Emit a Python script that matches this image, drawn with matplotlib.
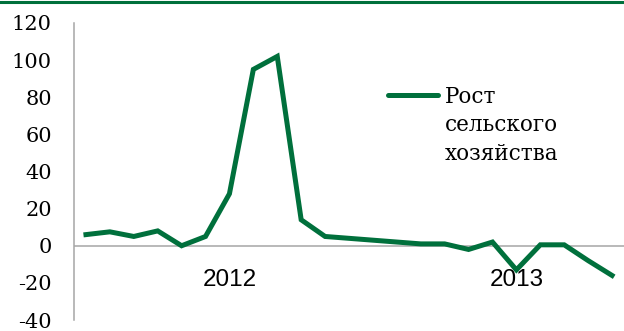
import matplotlib
matplotlib.use("Agg")
import matplotlib.pyplot as plt
from matplotlib.lines import Line2D

# monthly growth, index points along a category axis
growth = [6, 7.5, 5, 8, 0, 5, 28, 95, 102, 14, 5, 4, 3, 2, 1, 1, -2, 2, -13, 0.5, 0.5, -8, -16]
year_labels = ["2012", "2013"]
year_pos = [6, 18]
yticks = [-40, -20, 0, 20, 40, 60, 80, 100, 120]
series_name = "Рост\nсельского\nхозяйства"

GREEN = "#00703c"
GREY = "#a6a6a6"
W, H = 624, 331

fig = plt.figure(figsize=(W / 100, H / 100), dpi=100)
ax = fig.add_axes([74 / W, (H - 320) / H, (W - 74) / W, 297 / H])

x = list(range(len(growth)))
ax.plot(x, growth, color=GREEN, lw=3.6, solid_joinstyle="miter", clip_on=False)
ax.axhline(0, color=GREY, lw=1.1, zorder=0)

ax.set_xlim(-0.5, len(growth) - 0.5)
ax.set_ylim(-40, 120)
ax.set_yticks(yticks)
ax.set_yticklabels([str(v) for v in yticks], family="DejaVu Serif", fontsize=15)
ax.tick_params(axis="y", length=0, pad=16)
ax.set_xticks([])

for s in ["top", "right", "bottom"]:
    ax.spines[s].set_visible(False)
ax.spines["left"].set_color(GREY)
ax.spines["left"].set_linewidth(1.1)

for lab, p in zip(year_labels, year_pos):
    ax.text(p, -18.5, lab, ha="center", va="center", family="Liberation Sans",
            fontsize=17.5, color="#000000")

# legend: handle sits beside the first line of the label
fig.add_artist(Line2D([388 / W, 438 / W], [1 - 95 / H, 1 - 95 / H],
                      transform=fig.transFigure, color=GREEN, lw=3.6,
                      solid_capstyle="round"))
fig.text(445 / W, 1 - 86 / H, series_name, ha="left", va="top",
         family="DejaVu Serif", fontsize=15.5, linespacing=1.38)

# thin green rule along the top edge
fig.add_artist(Line2D([0, 1], [1 - 1.5 / H, 1 - 1.5 / H], transform=fig.transFigure,
                      color=GREEN, lw=2.2))

fig.savefig("out.png", dpi=100, facecolor="white")
